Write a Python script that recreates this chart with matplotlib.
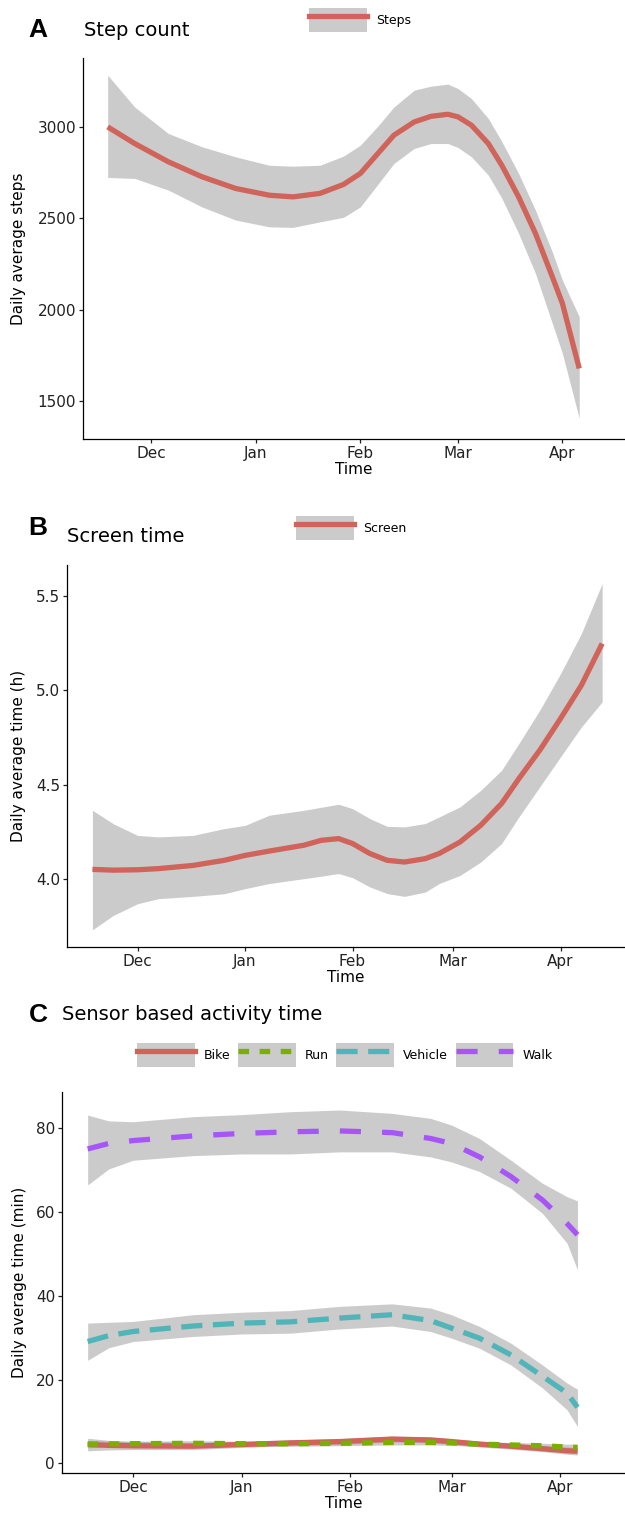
import pandas as pd
import numpy as np
import matplotlib
matplotlib.use('Agg')
import matplotlib.pyplot as plt
import matplotlib.dates as mdates
from matplotlib.patches import Patch
from matplotlib.lines import Line2D
from matplotlib.legend_handler import HandlerTuple

# ---- panel A: step count ----
steps_dates = ['2019-11-18', '2019-11-26', '2019-12-06', '2019-12-16', '2019-12-26',
               '2020-01-05', '2020-01-12', '2020-01-20', '2020-01-27', '2020-02-01',
               '2020-02-06', '2020-02-11', '2020-02-17', '2020-02-22', '2020-02-27',
               '2020-03-01', '2020-03-05', '2020-03-10', '2020-03-14', '2020-03-19',
               '2020-03-24', '2020-03-29', '2020-04-01', '2020-04-06']
steps_fit = [3000, 2909, 2809, 2727, 2663, 2626, 2617, 2636, 2685, 2745, 2850, 2955,
             3027, 3058, 3069, 3055, 3009, 2909, 2790, 2617, 2417, 2180, 2034, 1678]
steps_hi = [3283, 3109, 2964, 2891, 2836, 2790, 2785, 2790, 2840, 2900, 3000, 3109,
            3201, 3223, 3234, 3210, 3155, 3046, 2920, 2745, 2544, 2316, 2161, 1961]
steps_lo = [2723, 2718, 2654, 2562, 2490, 2453, 2450, 2480, 2505, 2562, 2681, 2800,
            2882, 2909, 2909, 2887, 2836, 2736, 2610, 2417, 2198, 1925, 1760, 1405]

# ---- panel B: screen time ----
screen_dates = ['2019-11-18', '2019-11-24', '2019-12-01', '2019-12-07', '2019-12-17',
                '2019-12-26', '2020-01-01', '2020-01-08', '2020-01-18', '2020-01-23',
                '2020-01-28', '2020-02-01', '2020-02-06', '2020-02-11', '2020-02-16',
                '2020-02-22', '2020-02-26', '2020-03-03', '2020-03-09', '2020-03-15',
                '2020-03-20', '2020-03-26', '2020-04-01', '2020-04-07', '2020-04-13']
screen_fit = [4.051, 4.047, 4.049, 4.055, 4.072, 4.099, 4.125, 4.148, 4.179, 4.205,
              4.214, 4.188, 4.135, 4.099, 4.090, 4.108, 4.135, 4.196, 4.285, 4.400,
              4.532, 4.682, 4.850, 5.026, 5.247]
screen_hi = [4.364, 4.293, 4.231, 4.223, 4.231, 4.267, 4.284, 4.338, 4.364, 4.380,
             4.396, 4.373, 4.320, 4.279, 4.276, 4.294, 4.329, 4.382, 4.470, 4.576,
             4.718, 4.894, 5.088, 5.300, 5.565]
screen_lo = [3.731, 3.807, 3.869, 3.896, 3.908, 3.922, 3.949, 3.976, 4.002, 4.015,
             4.029, 4.007, 3.958, 3.923, 3.908, 3.931, 3.976, 4.019, 4.090, 4.188,
             4.329, 4.488, 4.647, 4.805, 4.938]

# ---- panel C: sensor based activity ----
act_dates = ['2019-11-18', '2019-11-24', '2019-12-01', '2019-12-18', '2020-01-01',
             '2020-01-15', '2020-01-29', '2020-02-13', '2020-02-24', '2020-03-01',
             '2020-03-09', '2020-03-18', '2020-03-27', '2020-04-03', '2020-04-06']
bike_fit = [4.5, 4.3, 4.2, 4.1, 4.5, 4.9, 5.2, 5.8, 5.6, 5.2, 4.6, 4.1, 3.5, 3.0, 2.9]
bike_hi = [6.0, 5.5, 5.2, 5.0, 5.2, 5.6, 5.9, 6.5, 6.3, 5.9, 5.3, 4.8, 4.3, 3.9, 3.8]
bike_lo = [3.0, 3.2, 3.3, 3.3, 3.8, 4.2, 4.5, 5.1, 4.9, 4.5, 3.9, 3.4, 2.8, 2.2, 2.0]
run_fit = [4.6, 4.65, 4.7, 4.8, 4.7, 4.7, 4.8, 5.0, 5.0, 4.9, 4.6, 4.4, 4.2, 3.9, 3.8]
run_hi = [5.5, 5.3, 5.3, 5.4, 5.3, 5.3, 5.4, 5.6, 5.6, 5.5, 5.2, 5.0, 4.8, 4.6, 4.6]
run_lo = [3.7, 4.0, 4.1, 4.2, 4.1, 4.1, 4.2, 4.4, 4.4, 4.3, 4.0, 3.8, 3.6, 3.2, 3.0]
vehicle_fit = [29.1, 30.5, 31.5, 32.8, 33.5, 33.8, 34.7, 35.5, 34.1, 32.3, 29.9, 25.9, 20.8, 16.8, 13.4]
vehicle_hi = [33.5, 33.7, 33.9, 35.5, 36.1, 36.5, 37.5, 38.1, 37.1, 35.5, 32.7, 28.7, 23.5, 19.2, 17.7]
vehicle_lo = [24.6, 27.6, 29.1, 30.3, 30.9, 31.1, 32.1, 32.8, 31.5, 29.9, 27.5, 23.5, 18.0, 12.8, 8.8]
walk_fit = [75.1, 76.4, 77.1, 78.2, 78.8, 79.2, 79.4, 79.0, 77.6, 76.4, 73.2, 68.5, 62.9, 57.3, 54.6]
walk_hi = [83.2, 81.8, 81.6, 82.8, 83.3, 84.0, 84.4, 83.6, 82.4, 80.8, 77.6, 72.4, 66.9, 63.7, 62.7]
walk_lo = [66.5, 70.3, 72.4, 73.5, 73.9, 73.9, 74.4, 74.4, 73.2, 72.0, 69.7, 65.7, 59.7, 52.6, 46.2]

RED = '#D0635A'
GREEN = '#7CAE00'
TEAL = '#4FB5B8'
PURPLE = '#A855F7'
BAND = '#999999'
LW = 3.8

W, H = 625, 1514
fig = plt.figure(figsize=(W / 100, H / 100), dpi=100)


def px_axes(left, top, bottom):
    return fig.add_axes([left / W, 1 - bottom / H, (W - left) / W, (bottom - top) / H])


def style_axes(ax, ylabel, ylab_x):
    for s in ['top', 'right']:
        ax.spines[s].set_visible(False)
    for s in ['left', 'bottom']:
        ax.spines[s].set_linewidth(0.9)
    ax.tick_params(labelsize=11, length=3, width=0.9, pad=2, colors='#222222')
    ax.xaxis.set_major_locator(mdates.MonthLocator())
    ax.xaxis.set_major_formatter(mdates.DateFormatter('%b'))
    ax.set_xlim(pd.Timestamp('2019-11-10 16:00'), pd.Timestamp('2020-04-19 14:00'))
    ax.set_xlabel('Time', fontsize=11, labelpad=1)
    ax.set_ylabel(ylabel, fontsize=11)
    ax.yaxis.set_label_coords(ylab_x, 0.5)


def smooth(ax, dates, fit, lo, hi, color, dashes=None):
    x = pd.to_datetime(dates)
    ax.fill_between(x, lo, hi, color=BAND, alpha=0.5, lw=0)
    if dashes:
        ax.plot(x, fit, color=color, lw=LW, dashes=dashes, solid_joinstyle='round')
    else:
        ax.plot(x, fit, color=color, lw=LW, solid_capstyle='butt', solid_joinstyle='round')


def key(color, dashes=None):
    ln = Line2D([], [], color=color, lw=LW)
    if dashes:
        ln.set_dashes(dashes)
    return (Patch(facecolor=BAND, alpha=0.5, edgecolor='none'), ln)


def panel_legend(handles, labels, x, y):
    fig.legend(handles, labels, loc='center left', bbox_to_anchor=(x / W, 1 - y / H),
               ncol=len(labels), frameon=False, fontsize=9, borderpad=0,
               borderaxespad=0, handlelength=4.6, handleheight=2.6,
               handletextpad=0.75, columnspacing=0.6,
               handler_map={tuple: HandlerTuple(ndivide=1)})


def panel_title(letter, title, y, title_x, title_dy=0):
    fig.text(38 / W, 1 - y / H, letter, ha='center', va='center', fontsize=19,
             fontweight='bold', family='Liberation Sans')
    fig.text(title_x / W, 1 - (y + title_dy) / H, title, ha='left', va='center', fontsize=14)


# A
axA = px_axes(83, 58, 439)
smooth(axA, steps_dates, steps_fit, steps_lo, steps_hi, RED)
axA.set_ylim(1292, 3377)
axA.set_yticks([1500, 2000, 2500, 3000])
style_axes(axA, 'Daily average steps', -0.105)
panel_title('A', 'Step count', 30, 84)
panel_legend([key(RED)], ['Steps'], 309, 20)

# B
axB = px_axes(67, 565, 947)
smooth(axB, screen_dates, screen_fit, screen_lo, screen_hi, RED)
axB.set_ylim(3.64, 5.663)
axB.set_yticks([4.0, 4.5, 5.0, 5.5])
style_axes(axB, 'Daily average time (h)', -0.073)
panel_title('B', 'Screen time', 528, 67, title_dy=9)
panel_legend([key(RED)], ['Screen'], 296, 528)

# C
axC = px_axes(62, 1092, 1473)
smooth(axC, act_dates, bike_fit, bike_lo, bike_hi, RED)
smooth(axC, act_dates, run_fit, run_lo, run_hi, GREEN, (2, 2))
smooth(axC, act_dates, vehicle_fit, vehicle_lo, vehicle_hi, TEAL, (4, 2))
smooth(axC, act_dates, walk_fit, walk_lo, walk_hi, PURPLE, (4, 4))
axC.set_ylim(-2.3, 88.7)
axC.set_yticks([0, 20, 40, 60, 80])
style_axes(axC, 'Daily average time (min)', -0.062)
panel_title('C', 'Sensor based activity time', 1015, 62)
panel_legend([key(RED), key(GREEN, (2, 2)), key(TEAL, (4, 2)), key(PURPLE, (4, 4))],
             ['Bike', 'Run', 'Vehicle', 'Walk'], 137, 1055)

fig.savefig('out.png', dpi=100)
